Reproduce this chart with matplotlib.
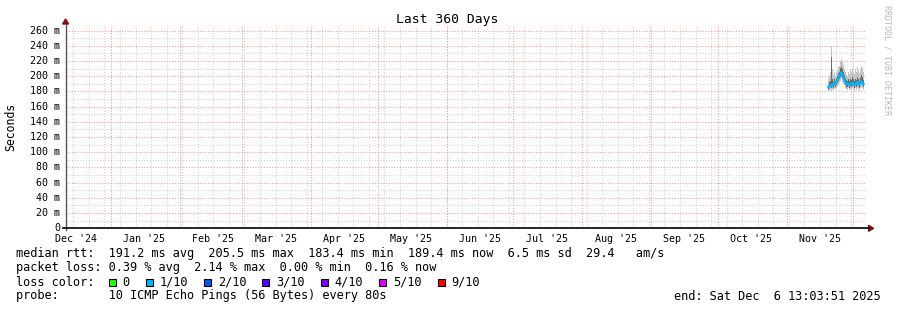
import matplotlib
matplotlib.use("Agg")
import matplotlib.pyplot as plt
import matplotlib.dates as mdates
from matplotlib.patches import Rectangle, Polygon
import pandas as pd

W, H = 897, 310
MONO = "DejaVu Sans Mono"

# time range of the graph
end_time = pd.Timestamp("2025-12-06 13:03:51")
start_time = end_time - pd.Timedelta(days=360)

month_labels = ["Dec '24", "Jan '25", "Feb '25", "Mar '25", "Apr '25", "May '25",
                "Jun '25", "Jul '25", "Aug '25", "Sep '25", "Oct '25", "Nov '25"]
month_label_dates = ["2024-12-16", "2025-01-16", "2025-02-16", "2025-03-16", "2025-04-16",
                     "2025-05-16", "2025-06-16", "2025-07-16", "2025-08-16", "2025-09-16",
                     "2025-10-16", "2025-11-16"]
y_ticks = [0, 20, 40, 60, 80, 100, 120, 140, 160, 180, 200, 220, 240, 260]

# median rtt (ms), one value per consolidated step (10.8 h), from Nov 19 2025
median_ms = [184, 187, 189, 186, 190, 188, 191, 189, 192, 195, 198, 200, 204, 205, 202,
             199, 196, 193, 190, 189, 191, 188, 190, 189, 192, 190, 188, 191, 189, 193,
             190, 188, 191, 194, 192, 189, 191]
# smoke: outer (min/max ping) and inner band
smoke_lo = [180, 182, 183, 181, 183, 182, 184, 183, 185, 187, 189, 191, 194, 196, 193,
            190, 188, 185, 183, 182, 184, 182, 183, 182, 185, 183, 181, 184, 182, 185,
            183, 181, 184, 186, 185, 182, 184]
smoke_hi = [196, 200, 206, 238, 210, 202, 205, 200, 204, 208, 212, 214, 220, 222, 219,
            215, 210, 206, 202, 200, 205, 203, 208, 204, 210, 206, 203, 209, 205, 212,
            207, 204, 210, 214, 211, 206, 209]
inner_lo = [182, 185, 186, 184, 187, 185, 188, 186, 189, 191, 194, 196, 199, 200, 198,
            195, 192, 189, 186, 186, 188, 185, 187, 186, 189, 187, 185, 188, 186, 189,
            187, 185, 188, 190, 189, 186, 188]
inner_hi = [189, 192, 194, 225, 196, 193, 196, 194, 197, 200, 204, 206, 211, 212, 209,
            205, 201, 198, 195, 194, 197, 194, 196, 195, 199, 196, 194, 197, 195, 199,
            196, 194, 198, 201, 199, 195, 197]
loss_bucket = [0] + [1] * 36

loss_names = ["0", "1/10", "2/10", "3/10", "4/10", "5/10", "9/10"]
loss_colors = ["#26ff00", "#00b8ff", "#0059ff", "#5e00ff", "#7e00ff", "#dd00ff", "#ff0000"]

stats_line = "median rtt:  191.2 ms avg  205.5 ms max  183.4 ms min  189.4 ms now  6.5 ms sd  29.4   am/s"
loss_line = "packet loss: 0.39 % avg  2.14 % max  0.00 % min  0.16 % now"
probe_line = "probe:       10 ICMP Echo Pings (56 Bytes) every 80s"
end_line = "end: Sat Dec  6 13:03:51 2025"

times = pd.date_range("2025-11-19 16:00", periods=len(median_ms), freq="648min")


def fx(px):
    return px / W


def fy(py):
    return 1 - py / H


fig = plt.figure(figsize=(W / 100, H / 100), dpi=100)
x0, x1, ytop, ybot = 65.6, 865.6, 25.0, 228.3
ax = fig.add_axes([fx(x0), fy(ybot), (x1 - x0) / W, (ybot - ytop) / H])
ymax = (ybot - ytop) / (ybot - 30.6) * 260
ax.set_xlim(start_time, end_time)
ax.set_ylim(0, ymax)

# grid
for t in pd.date_range("2024-12-15", end_time, freq="7D"):
    ax.axvline(t, color="#d4d4d4", lw=0.8, ls=(0, (1, 1.5)), zorder=0)
for v in range(10, 270, 20):
    ax.axhline(v, color="#d4d4d4", lw=0.8, ls=(0, (1, 1.5)), zorder=0)
for t in pd.date_range("2025-01-01", end_time, freq="MS"):
    ax.axvline(t, color="#f0a0a0", lw=0.8, ls=(0, (1, 1.5)), zorder=0.5)
for v in y_ticks[1:]:
    ax.axhline(v, color="#f0a0a0", lw=0.8, ls=(0, (1, 1.5)), zorder=0.5)

# smoke
ax.fill_between(times, smoke_lo, smoke_hi, step="mid", color="#c4c4c4", lw=0, zorder=2)
ax.fill_between(times, inner_lo, inner_hi, step="mid", color="#6a6a6a", lw=0, zorder=3)
# median colored by loss
for i in range(len(times) - 1):
    ax.plot(times[i:i + 2], median_ms[i:i + 2], color=loss_colors[loss_bucket[i + 1]],
            lw=1.8, solid_capstyle="butt", zorder=4)

for s in ax.spines.values():
    s.set_visible(False)
ax.set_xticks([])
ax.set_yticks([])
ax.set_facecolor("white")

# axis lines and arrows
fig.add_artist(plt.Line2D([fx(x0), fx(x0)], [fy(ybot + 2), fy(ytop - 1)], color="#555555", lw=1))
fig.add_artist(plt.Line2D([fx(x0 - 3), fx(x1 + 3)], [fy(ybot), fy(ybot)], color="black", lw=1.2))
fig.add_artist(Polygon([[fx(x0 - 3), fy(ytop - 1)], [fx(x0 + 3), fy(ytop - 1)], [fx(x0), fy(ytop - 6)]],
                       closed=True, color="#801010", transform=fig.transFigure))
fig.add_artist(Polygon([[fx(x1 + 3), fy(ybot - 3)], [fx(x1 + 3), fy(ybot + 3)], [fx(x1 + 8), fy(ybot)]],
                       closed=True, color="#801010", transform=fig.transFigure))

# tick labels
for v in y_ticks:
    lab = "0" if v == 0 else "%d m" % v
    ax.text(-0.007, v, lab, transform=ax.get_yaxis_transform(), ha="right", va="center",
            family=MONO, fontsize=7.2)
for d, lab in zip(month_label_dates, month_labels):
    ax.text(mdates.date2num(pd.Timestamp(d)), -0.03, lab, transform=ax.get_xaxis_transform(),
            ha="center", va="top", family=MONO, fontsize=7.2)

fig.text(fx(447), fy(19), "Last 360 Days", ha="center", va="center", family=MONO, fontsize=9.4)
fig.text(fx(11), fy(127), "Seconds", rotation=90, ha="center", va="center", family=MONO, fontsize=8.3)
fig.text(fx(887), fy(5), "RRDTOOL / TOBI OETIKER", rotation=270, ha="center", va="top",
         family=MONO, fontsize=6.0, color="#b8b8b8")

# legend
FS = 8.52
fig.text(fx(16), fy(254), stats_line, ha="left", va="center", family=MONO, fontsize=FS)
fig.text(fx(16), fy(268), loss_line, ha="left", va="center", family=MONO, fontsize=FS)
fig.text(fx(16), fy(282), "loss color:", ha="left", va="center", family=MONO, fontsize=FS)
bx = 108.5
for name, col in zip(loss_names, loss_colors):
    fig.add_artist(Rectangle((fx(bx), fy(285.5)), 7 / W, 7 / H, facecolor=col, edgecolor="black",
                             lw=0.8, transform=fig.transFigure))
    fig.text(fx(bx + 14), fy(282), name, ha="left", va="center", family=MONO, fontsize=FS)
    bx += 30 + 7.1 * len(name)
fig.text(fx(16), fy(296), probe_line, ha="left", va="center", family=MONO, fontsize=FS)
fig.text(fx(881), fy(296), end_line, ha="right", va="center", family=MONO, fontsize=FS)

fig.savefig("out.png", dpi=100)
